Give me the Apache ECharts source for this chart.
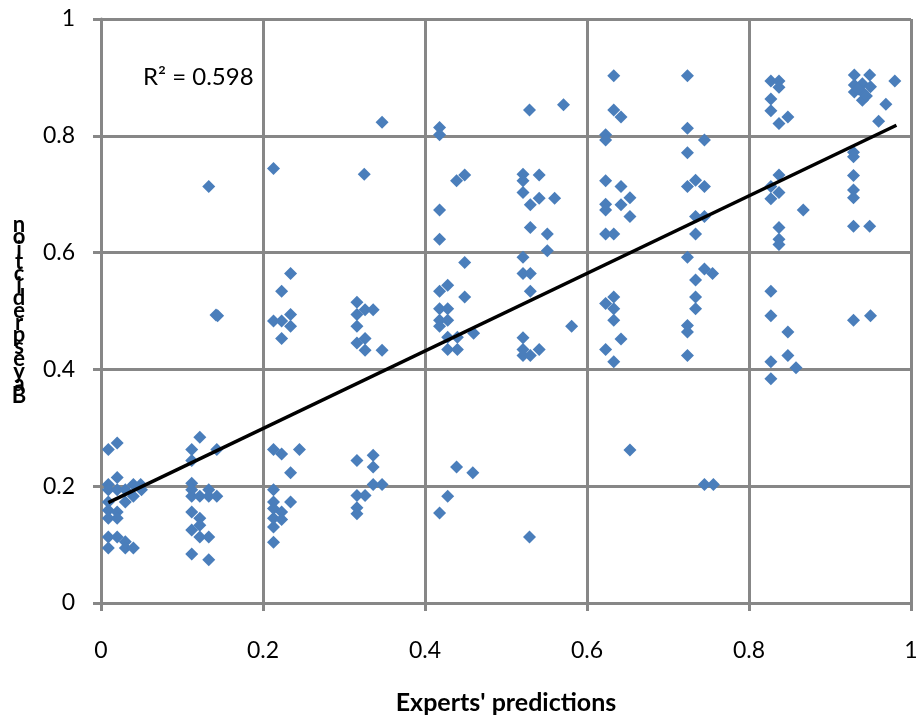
<!DOCTYPE html>
<html>
<head>
<meta charset="utf-8">
<script src="https://cdn.jsdelivr.net/npm/echarts@6/dist/echarts.min.js"></script>
<style>
  html, body { margin: 0; padding: 0; background: #fff; }
  #chart { width: 918px; height: 717px; }
</style>
</head>
<body>
<div id="chart"></div>
<script>
// [experts' prediction, bayes prediction] per column of experts' answers
const col00 = [[0.009,0.263],[0.020,0.274],[0.020,0.215],[0.009,0.203],[0.009,0.194],[0.020,0.194],[0.030,0.194],[0.040,0.203],[0.049,0.203],[0.050,0.194],[0.040,0.183],[0.030,0.173],[0.009,0.173],[0.009,0.159],[0.020,0.156],[0.009,0.145],[0.020,0.145],[0.009,0.113],[0.020,0.113],[0.030,0.105],[0.009,0.094],[0.030,0.094],[0.040,0.094]];
const col01 = [[0.122,0.284],[0.112,0.263],[0.143,0.263],[0.112,0.244],[0.112,0.205],[0.112,0.194],[0.112,0.183],[0.122,0.183],[0.133,0.194],[0.133,0.183],[0.143,0.183],[0.112,0.156],[0.122,0.145],[0.112,0.125],[0.122,0.133],[0.122,0.113],[0.133,0.113],[0.112,0.084],[0.133,0.074],[0.133,0.713],[0.142,0.493],[0.144,0.492]];
const col02 = [[0.213,0.263],[0.223,0.255],[0.245,0.263],[0.234,0.223],[0.213,0.194],[0.213,0.173],[0.234,0.173],[0.213,0.162],[0.223,0.156],[0.213,0.145],[0.223,0.143],[0.213,0.130],[0.213,0.104],[0.213,0.744],[0.234,0.564],[0.223,0.534],[0.213,0.483],[0.223,0.483],[0.234,0.494],[0.234,0.474],[0.223,0.453]];
const col03 = [[0.325,0.734],[0.347,0.823],[0.316,0.515],[0.326,0.502],[0.336,0.502],[0.316,0.494],[0.316,0.474],[0.316,0.445],[0.326,0.453],[0.326,0.433],[0.347,0.433],[0.316,0.244],[0.336,0.253],[0.336,0.233],[0.336,0.203],[0.347,0.203],[0.316,0.184],[0.326,0.184],[0.316,0.163],[0.316,0.153]];
const col04 = [[0.418,0.814],[0.418,0.802],[0.439,0.723],[0.449,0.733],[0.418,0.673],[0.418,0.623],[0.449,0.583],[0.418,0.534],[0.428,0.544],[0.449,0.524],[0.418,0.504],[0.428,0.504],[0.418,0.484],[0.428,0.484],[0.418,0.474],[0.428,0.455],[0.440,0.455],[0.460,0.462],[0.428,0.434],[0.440,0.434],[0.439,0.233],[0.459,0.223],[0.428,0.183],[0.418,0.154]];
const col05 = [[0.529,0.844],[0.571,0.853],[0.521,0.734],[0.521,0.723],[0.521,0.703],[0.541,0.733],[0.530,0.682],[0.541,0.693],[0.560,0.693],[0.530,0.643],[0.551,0.632],[0.551,0.603],[0.521,0.592],[0.521,0.564],[0.530,0.564],[0.530,0.534],[0.581,0.474],[0.521,0.454],[0.521,0.434],[0.521,0.424],[0.530,0.424],[0.541,0.434],[0.529,0.113]];
const col06 = [[0.633,0.903],[0.633,0.844],[0.642,0.832],[0.623,0.802],[0.623,0.793],[0.623,0.723],[0.642,0.713],[0.653,0.694],[0.623,0.683],[0.623,0.673],[0.642,0.682],[0.653,0.662],[0.623,0.632],[0.633,0.632],[0.633,0.524],[0.623,0.513],[0.633,0.504],[0.633,0.484],[0.642,0.452],[0.623,0.434],[0.633,0.413],[0.653,0.262]];
const col07 = [[0.724,0.903],[0.724,0.813],[0.745,0.793],[0.724,0.771],[0.724,0.713],[0.734,0.724],[0.745,0.713],[0.734,0.662],[0.745,0.662],[0.734,0.632],[0.724,0.592],[0.745,0.572],[0.755,0.564],[0.734,0.553],[0.734,0.524],[0.734,0.504],[0.724,0.475],[0.724,0.464],[0.724,0.424],[0.745,0.203],[0.756,0.203]];
const col08 = [[0.827,0.894],[0.837,0.894],[0.837,0.883],[0.827,0.863],[0.827,0.843],[0.848,0.832],[0.837,0.821],[0.837,0.733],[0.827,0.713],[0.837,0.703],[0.827,0.692],[0.867,0.673],[0.837,0.643],[0.837,0.623],[0.837,0.614],[0.827,0.534],[0.827,0.492],[0.848,0.464],[0.848,0.424],[0.827,0.413],[0.858,0.403],[0.827,0.384]];
const col09 = [[0.930,0.904],[0.949,0.904],[0.930,0.887],[0.940,0.889],[0.950,0.884],[0.930,0.875],[0.940,0.875],[0.940,0.861],[0.935,0.880],[0.945,0.868],[0.980,0.894],[0.969,0.854],[0.960,0.825],[0.929,0.772],[0.929,0.764],[0.929,0.732],[0.929,0.707],[0.929,0.694],[0.929,0.645],[0.949,0.645],[0.929,0.484],[0.950,0.492]];

// linear trend line, end points
const trendLine = [[0.009,0.172],[0.982,0.818]];
const rSquared = 'R² = 0.598';
const xTitle = "Experts' predictions";
const yTitle = 'Bayesprediction';

const points = [].concat(col00, col01, col02, col03, col04, col05, col06, col07, col08, col09);

const gridColor = '#878787';
const font = 'Lato';

const chart = echarts.init(document.getElementById('chart'));

chart.setOption({
  animation: false,
  grid: { left: 101, right: 7, top: 19, bottom: 114, outerBoundsMode: 'none' },
  xAxis: {
    type: 'value',
    min: 0,
    max: 1,
    interval: 0.2,
    name: xTitle,
    nameLocation: 'middle',
    nameGap: 90,
    nameTextStyle: { fontFamily: font, fontWeight: 'bold', fontSize: 25, lineHeight: 20, color: '#000' },
    axisLine: { show: true, lineStyle: { color: gridColor, width: 3 } },
    axisTick: { show: true, length: 8, lineStyle: { color: gridColor, width: 3 } },
    axisLabel: { margin: 36, fontFamily: font, fontSize: 23, color: '#000' },
    splitLine: { show: true, lineStyle: { color: gridColor, width: 3 } }
  },
  yAxis: {
    type: 'value',
    min: 0,
    max: 1,
    interval: 0.2,
    axisLine: { show: true, lineStyle: { color: gridColor, width: 3 } },
    axisTick: { show: true, length: 8, lineStyle: { color: gridColor, width: 3 } },
    axisLabel: { margin: 26, fontFamily: font, fontSize: 23, color: '#000' },
    splitLine: { show: true, lineStyle: { color: gridColor, width: 3 } }
  },
  graphic: [
    {
      type: 'text',
      x: 19,
      y: 219,
      style: {
        text: yTitle.split('').reverse().join('\n'),
        fontFamily: font,
        fontWeight: 'bold',
        fontSize: 22,
        lineHeight: 12.2,
        fill: '#000',
        textAlign: 'center',
        align: 'center',
        verticalAlign: 'top'
      }
    },
    {
      type: 'text',
      x: 143,
      y: 77,
      style: {
        text: rSquared,
        fontFamily: font,
        fontSize: 24,
        fill: '#000',
        verticalAlign: 'middle',
        textVerticalAlign: 'middle'
      }
    }
  ],
  series: [
    {
      type: 'scatter',
      data: points,
      symbol: 'diamond',
      symbolSize: 13,
      itemStyle: { color: '#4A7EBB', opacity: 1 },
      z: 2
    },
    {
      type: 'line',
      data: trendLine,
      symbol: 'none',
      lineStyle: { color: '#000', width: 3.5 },
      z: 3
    }
  ]
});
</script>
</body>
</html>
